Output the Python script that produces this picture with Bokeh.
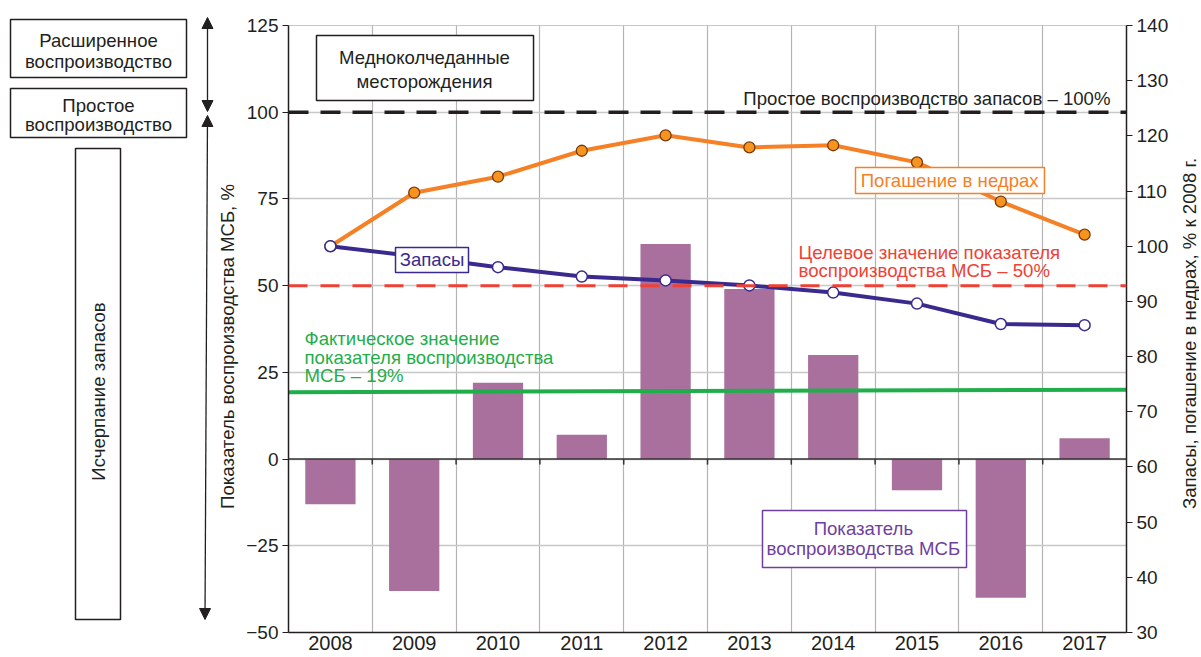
import math
from bokeh.plotting import figure
from bokeh.layouts import row
from bokeh.models import (Range1d, LinearAxis, FixedTicker, Span, Label,
                          BoxAnnotation, Arrow, NormalHead)
from bokeh.embed import file_html
from bokeh.resources import INLINE

# ---------------- data ----------------
years = ["2008", "2009", "2010", "2011", "2012", "2013", "2014", "2015", "2016", "2017"]
msb_index = [-13, -38, 22, 7, 62, 49, 30, -9, -40, 6]            # left axis, %
depletion = [100, 109.7, 112.6, 117.3, 120.1, 117.9, 118.3, 115.2, 108.1, 102.1]  # right axis
reserves = [100, 98.2, 96.2, 94.5, 93.8, 92.9, 91.6, 89.6, 85.9, 85.7]            # right axis
left_ticks = [-50, -25, 0, 25, 50, 75, 100, 125]
right_ticks = [30, 40, 50, 60, 70, 80, 90, 100, 110, 120, 130, 140]
target_value = 50
simple_value = 100
fact_values = [19.3, 20.0]   # fact line at left / right edge

FONT = "Liberation Sans"
DARK = "#231f20"
BAR = "#a9709d"
ORANGE = "#f58025"
BLUE = "#3b2a8e"
GREEN = "#1fae4a"
RED = "#ef4136"
PURPLE = "#6f3fa0"
TS = "18.6px"

H = 655
x_idx = list(range(len(years)))
x_lo, x_hi = -0.5, len(years) - 0.5
bounds = [i + 0.5 for i in range(len(years) - 1)]

# ---------------- main figure ----------------
p = figure(width=935, height=H, x_range=Range1d(x_lo, x_hi), y_range=Range1d(-50, 125),
           output_backend="svg", toolbar_location=None,
           min_border_left=46, min_border_right=51, min_border_top=25, min_border_bottom=23)
p.extra_y_ranges = {"r": Range1d(30, 140)}
p.outline_line_color = "#c8c8c8"
p.background_fill_color = "white"

# axes
p.xaxis.ticker = FixedTicker(ticks=x_idx)
p.xaxis.major_label_overrides = {i: y for i, y in enumerate(years)}
p.xaxis.major_tick_out = 0
p.xaxis.major_tick_in = 0
p.xaxis.minor_tick_line_color = None
p.xaxis.major_label_standoff = 3
p.xaxis.axis_line_color = DARK
p.xaxis.axis_line_width = 1.5
p.xaxis.major_label_text_font = FONT
p.xaxis.major_label_text_font_size = "20px"
p.xaxis.major_label_text_color = DARK

p.yaxis.ticker = FixedTicker(ticks=left_ticks)
p.yaxis.major_tick_out = 6
p.yaxis.major_tick_in = 0
p.yaxis.minor_tick_line_color = None
p.yaxis.major_label_standoff = 4
p.yaxis.axis_line_color = DARK
p.yaxis.axis_line_width = 1.5
p.yaxis.major_tick_line_color = DARK
p.yaxis.major_label_text_font = FONT
p.yaxis.major_label_text_font_size = "19px"
p.yaxis.major_label_text_color = DARK

ra = LinearAxis(y_range_name="r", ticker=FixedTicker(ticks=right_ticks))
ra.major_tick_out = 6
ra.major_tick_in = 0
ra.minor_tick_line_color = None
ra.major_label_standoff = 4
ra.axis_line_color = DARK
ra.axis_line_width = 1.5
ra.major_tick_line_color = DARK
ra.major_label_text_font = FONT
ra.major_label_text_font_size = "19px"
ra.major_label_text_color = DARK
p.add_layout(ra, "right")

# grids
p.ygrid.ticker = FixedTicker(ticks=left_ticks)
p.ygrid.grid_line_color = "#c8c8c8"
p.ygrid.grid_line_width = 1.5
p.xgrid.ticker = FixedTicker(ticks=bounds)
p.xgrid.grid_line_color = "#b4b4b4"
p.xgrid.grid_line_width = 1.2

# bars
p.vbar(x=x_idx, top=msb_index, bottom=0, width=0.6, fill_color=BAR, line_color=None)

# zero line with small ticks
p.add_layout(Span(location=0, dimension="width", line_color="#333333", line_width=1.5))
p.segment(x0=bounds, y0=[0] * len(bounds), x1=bounds, y1=[-1.6] * len(bounds),
          line_color="#333333", line_width=1.5)

# fact line
p.line(x=[x_lo, x_hi], y=fact_values, line_color=GREEN, line_width=4)

# target & simple reproduction lines
p.add_layout(Span(location=target_value, dimension="width", line_color=RED,
                  line_dash="19 13", line_width=3))
p.add_layout(Span(location=simple_value, dimension="width", line_color=DARK,
                  line_dash="20 12", line_width=3.5))

# depletion (orange)
p.line(x=x_idx, y=depletion, y_range_name="r", line_color=ORANGE, line_width=4)
p.scatter(x=x_idx, y=depletion, y_range_name="r", size=11, fill_color="#f7941d",
          line_color="#7a3a10", line_width=1.3)

# reserves (blue)
p.line(x=x_idx, y=reserves, y_range_name="r", line_color=BLUE, line_width=4)
p.scatter(x=x_idx, y=reserves, y_range_name="r", size=11, fill_color="white",
          line_color=BLUE, line_width=1.5)


def box(fig, l, r, t, b, color, lw=1.5):
    fig.add_layout(BoxAnnotation(left=l, right=r, top=t, bottom=b, fill_color="white",
                                 fill_alpha=1, line_color=color, line_alpha=1, line_width=lw))


def lab(fig, x, y, text, color=DARK, align="center", size=TS, angle=0):
    fig.add_layout(Label(x=x, y=y, text=text, text_font=FONT, text_font_size=size,
                         text_color=color, text_align=align, text_baseline="middle",
                         angle=angle))


# annotations in main plot
box(p, -0.166, 2.424, 122.1, 103.4, DARK)
lab(p, 1.123, 115.8, "Медноколчеданные")
lab(p, 1.123, 108.9, "месторождения")

lab(p, 9.309, 104.0, "Простое воспроизводство запасов – 100%", align="right")

box(p, 6.266, 8.521, 84.06, 76.56, ORANGE)
lab(p, 7.39, 80.3, "Погашение в недрах", color=ORANGE)

box(p, 0.777, 1.648, 61.0, 53.8, BLUE)
lab(p, 1.212, 57.4, "Запасы", color=BLUE)

lab(p, 5.586, 59.6, "Целевое значение показателя", color=RED, align="left")
lab(p, 5.586, 54.4, "воспроизводства МСБ – 50%", color=RED, align="left")

lab(p, -0.309, 34.8, "Фактическое значение", color=GREEN, align="left")
lab(p, -0.309, 29.4, "показателя воспроизводства", color=GREEN, align="left")
lab(p, -0.309, 24.1, "МСБ – 19%", color=GREEN, align="left")

box(p, 5.156, 7.591, -14.83, -31.26, PURPLE)
lab(p, 6.36, -19.9, "Показатель", color=PURPLE)
lab(p, 6.36, -25.9, "воспроизводства МСБ", color=PURPLE)


def side_fig(w):
    f = figure(width=w, height=H, x_range=Range1d(0, w), y_range=Range1d(H, 0),
               output_backend="svg", toolbar_location=None,
               x_axis_location=None, y_axis_location=None,
               min_border_left=0, min_border_right=0, min_border_top=0, min_border_bottom=0)
    f.outline_line_color = None
    f.grid.grid_line_color = None
    try:
        f.frame_align = False
    except Exception:
        pass
    return f


# ---------------- left panel (screen-pixel coordinates) ----------------
lf = side_fig(242)

box(lf, 10, 186, 19, 77, DARK)
lab(lf, 98, 40, "Расширенное")
lab(lf, 98, 60.5, "воспроизводство")
box(lf, 10, 186, 88, 137, DARK)
lab(lf, 98, 104.5, "Простое")
lab(lf, 98, 123.5, "воспроизводство")
box(lf, 75, 120, 148, 619, DARK)
lab(lf, 97.5, 391, "Исчерпание запасов", angle=math.pi / 2)

head = dict(size=11, fill_color=DARK, line_color=DARK)
lf.add_layout(Arrow(start=NormalHead(**head), end=NormalHead(**head),
                    x_start=207, y_start=17, x_end=207, y_end=111,
                    line_color=DARK, line_width=1.3))
lf.add_layout(Arrow(start=NormalHead(**head), end=NormalHead(**head),
                    x_start=207, y_start=115, x_end=204.5, y_end=619,
                    line_color=DARK, line_width=1.3))

lab(lf, 227, 346, "Показатель воспроизводства МСБ, %", angle=math.pi / 2)

# ---------------- right panel ----------------
rf = side_fig(22)
lab(rf, 12, 333, "Запасы, погашение в недрах, % к 2008 г.", angle=math.pi / 2)

layout = row(lf, p, rf, spacing=0)
open("out.html", "w").write(file_html(layout, INLINE))
